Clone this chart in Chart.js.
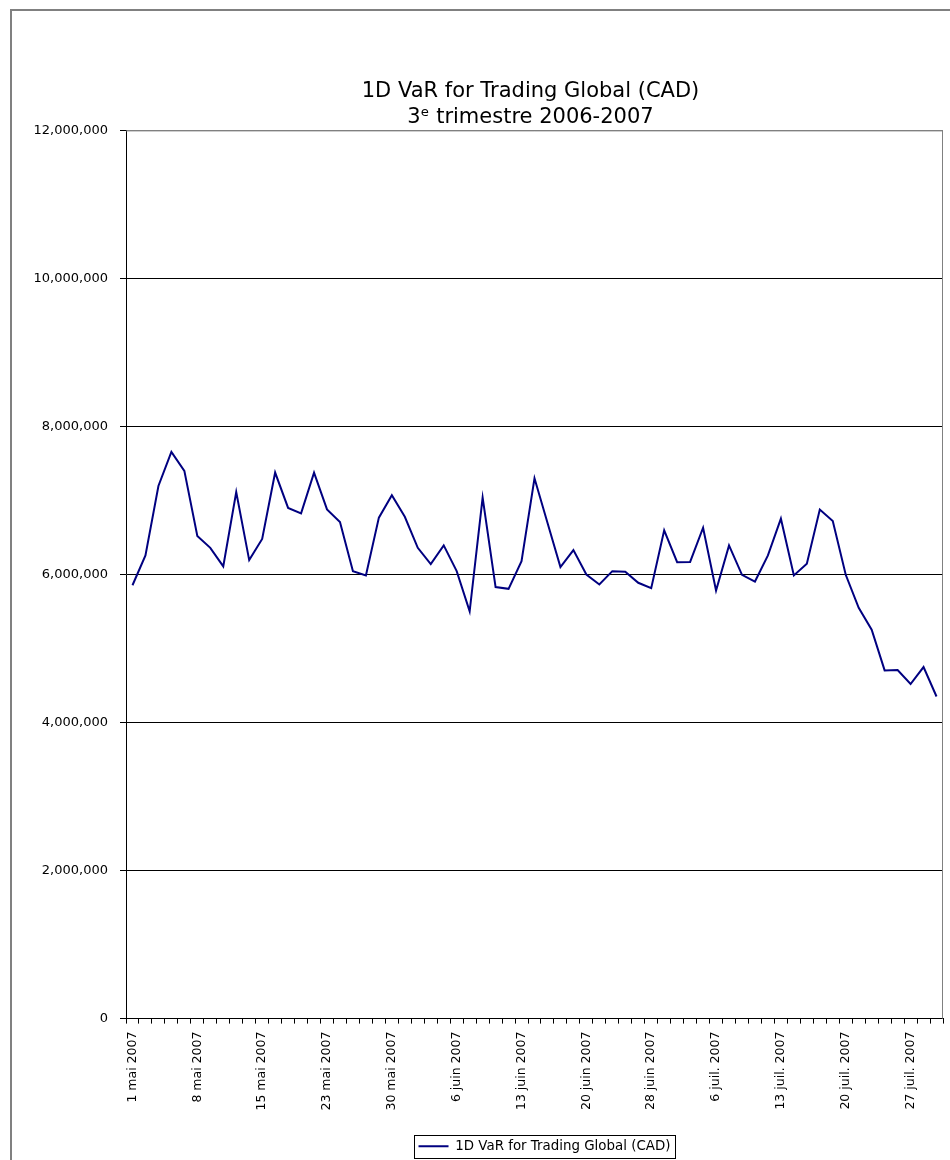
<!DOCTYPE html>
<html>
<head>
<meta charset="utf-8">
<script src="https://cdn.jsdelivr.net/npm/chart.js@4.4.0/dist/chart.umd.min.js"></script>
<style>
  html, body { margin: 0; padding: 0; background: #fff; }
  canvas { display: block; }
</style>
</head>
<body>
<canvas id="c" width="950" height="1160"></canvas>
<script>
const titleText = "1D VaR for Trading Global (CAD)";
const subtitleText = "3\u1D49 trimestre 2006-2007";
const seriesName = "1D VaR for Trading Global (CAD)";

const dates = [
  "1 mai 2007","2 mai 2007","3 mai 2007","4 mai 2007","7 mai 2007",
  "8 mai 2007","9 mai 2007","10 mai 2007","11 mai 2007","14 mai 2007",
  "15 mai 2007","16 mai 2007","17 mai 2007","18 mai 2007","22 mai 2007",
  "23 mai 2007","24 mai 2007","25 mai 2007","28 mai 2007","29 mai 2007",
  "30 mai 2007","31 mai 2007","1 juin 2007","4 juin 2007","5 juin 2007",
  "6 juin 2007","7 juin 2007","8 juin 2007","11 juin 2007","12 juin 2007",
  "13 juin 2007","14 juin 2007","15 juin 2007","18 juin 2007","19 juin 2007",
  "20 juin 2007","21 juin 2007","22 juin 2007","26 juin 2007","27 juin 2007",
  "28 juin 2007","29 juin 2007","3 juil. 2007","4 juil. 2007","5 juil. 2007",
  "6 juil. 2007","9 juil. 2007","10 juil. 2007","11 juil. 2007","12 juil. 2007",
  "13 juil. 2007","16 juil. 2007","17 juil. 2007","18 juil. 2007","19 juil. 2007",
  "20 juil. 2007","23 juil. 2007","24 juil. 2007","25 juil. 2007","26 juil. 2007",
  "27 juil. 2007","30 juil. 2007","31 juil. 2007"
];

const varValues = [
  5855000, 6258000, 7196000, 7657000, 7400000,
  6520000, 6360000, 6109000, 7115000, 6194000,
  6480000, 7377000, 6900000, 6826000, 7377000,
  6880000, 6709000, 6045000, 5987000, 6768000,
  7070000, 6780000, 6360000, 6140000, 6393000,
  6045000, 5503000, 7040000, 5830000, 5806000,
  6180000, 7300000, 6700000, 6100000, 6330000,
  6000000, 5865000, 6045000, 6037000, 5888000,
  5815000, 6596000, 6167000, 6170000, 6632000,
  5783000, 6393000, 5996000, 5905000, 6258000,
  6754000, 5987000, 6145000, 6877000, 6723000,
  5996000, 5549000, 5255000, 4704000, 4710000,
  4520000, 4750000, 4352000
];

const yTicks = [0, 2000000, 4000000, 6000000, 8000000, 10000000, 12000000];
const labelEvery = 5;

Chart.defaults.font.family = "'DejaVu Sans', Tahoma, Verdana, sans-serif";
Chart.defaults.color = "#000";

const framePlugin = {
  id: "frame",
  beforeDraw(chart) {
    const ctx = chart.ctx;
    ctx.save();
    ctx.strokeStyle = "#808080";
    ctx.lineWidth = 2;
    ctx.strokeRect(11, 10, 1000, 1200);
    ctx.restore();
  },
  beforeDatasetsDraw(chart) {
    const a = chart.chartArea;
    const ctx = chart.ctx;
    ctx.save();
    ctx.strokeStyle = "#808080";
    ctx.lineWidth = 1;
    ctx.beginPath();
    ctx.moveTo(a.left, a.top + 0.5);
    ctx.lineTo(a.right - 0.5, a.top + 0.5);
    ctx.lineTo(a.right - 0.5, a.bottom);
    ctx.stroke();
    ctx.restore();
  },
  afterLayout(chart) {
    const lg = chart.legend;
    if (lg) { lg.left += 10; lg.right += 10; }
    for (const b of chart.boxes) {
      if (b !== lg && b.options && typeof b.options.text === "string") {
        b.left -= 4; b.right -= 4;
      }
    }
  },
  afterDraw(chart) {
    const lg = chart.legend;
    if (!lg || !lg.legendHitBoxes || !lg.legendHitBoxes.length) return;
    const hb = lg.legendHitBoxes[0];
    const ctx = chart.ctx;
    ctx.save();
    ctx.strokeStyle = "#000";
    ctx.lineWidth = 1;
    ctx.strokeRect(Math.round(hb.left - 5) + 0.5, Math.round(hb.top - 5) + 0.5,
                   Math.round(hb.width + 9), Math.round(hb.height + 10));
    ctx.restore();
  }
};

new Chart(document.getElementById("c"), {
  type: "line",
  data: {
    labels: dates,
    datasets: [{
      label: seriesName,
      data: varValues,
      borderColor: "#000080",
      backgroundColor: "#000080",
      borderWidth: 2,
      pointRadius: 0,
      pointHoverRadius: 0,
      tension: 0,
      fill: false
    }]
  },
  options: {
    responsive: false,
    animation: false,
    events: [],
    layout: { padding: { top: 79, right: 7, bottom: -3, left: 0 } },
    plugins: {
      title: {
        display: true,
        text: titleText,
        fullSize: false,
        color: "#000",
        font: { size: 21, weight: "normal" },
        padding: { top: 0, bottom: 1 }
      },
      subtitle: {
        display: true,
        text: subtitleText,
        fullSize: false,
        color: "#000",
        font: { size: 21, weight: "normal" },
        padding: { top: 0, bottom: 0 }
      },
      legend: {
        display: true,
        position: "bottom",
        fullSize: false,
        labels: {
          usePointStyle: true,
          pointStyle: "line",
          pointStyleWidth: 30,
          padding: 5,
          color: "#000",
          font: { size: 13.4 }
        }
      },
      tooltip: { enabled: false }
    },
    scales: {
      x: {
        type: "category",
        offset: true,
        afterFit(s) { s.height = 116; s.paddingLeft = 0; s.paddingRight = 0; },
        grid: {
          offset: true,
          drawOnChartArea: false,
          drawTicks: true,
          tickLength: 5,
          color: "#000"
        },
        border: { display: true, color: "#000", width: 1 },
        ticks: {
          autoSkip: false,
          minRotation: 90,
          maxRotation: 90,
          padding: 8,
          font: { size: 12.5 },
          color: "#000",
          callback: (v, i) => (i % labelEvery === 0 ? dates[i] : "")
        }
      },
      y: {
        min: 0,
        max: 12000000,
        afterFit(s) { s.width = 126; },
        afterBuildTicks(s) { s.ticks = yTicks.map(v => ({ value: v })); },
        grid: {
          color: (c) => (c.tick && c.tick.value === 12000000 ? "#808080" : "#000"),
          tickColor: "#000",
          tickLength: 6,
          lineWidth: 1
        },
        border: { display: true, color: "#000", width: 1 },
        ticks: {
          padding: 12,
          font: { size: 13 },
          color: "#000",
          callback: (v) => v.toLocaleString("en-US")
        }
      }
    }
  },
  plugins: [framePlugin]
});
</script>
</body>
</html>
